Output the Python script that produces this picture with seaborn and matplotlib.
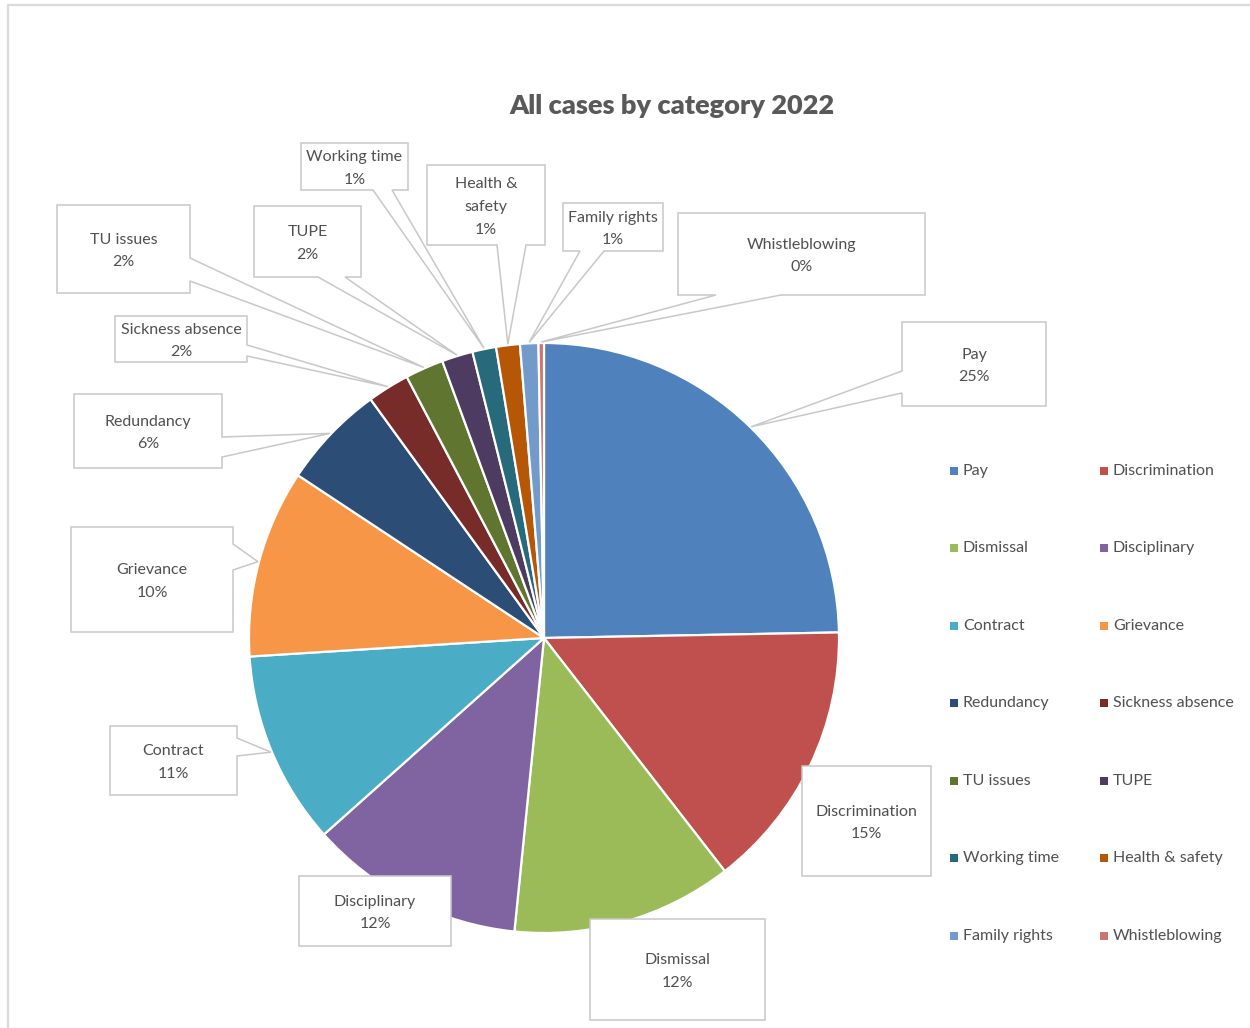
import matplotlib
matplotlib.use("Agg")
import matplotlib.pyplot as plt
from matplotlib.patches import Polygon
import numpy as np
import seaborn as sns

# ---- data -------------------------------------------------------------
categories = ["Pay", "Discrimination", "Dismissal", "Disciplinary", "Contract",
              "Grievance", "Redundancy", "Sickness absence", "TU issues", "TUPE",
              "Working time", "Health & safety", "Family rights", "Whistleblowing"]
shares = [24.7, 14.8, 12.1, 11.8, 10.6, 10.3, 5.7, 2.3, 2.1, 1.7, 1.3, 1.3, 1.0, 0.3]
colors = ["#4F81BD", "#C0504D", "#9BBB59", "#8064A2", "#4BACC6", "#F79646",
          "#2C4D75", "#772C2A", "#5F7530", "#4D3B62", "#276A7C", "#B65708",
          "#729ACA", "#CD7371"]
box_text = {"Health & safety": "Health &\nsafety"}

# ---- style ------------------------------------------------------------
sns.set_theme(style="white")
plt.rcParams["font.family"] = ["Lato", "DejaVu Sans"]
TXT = "#505050"
EDGE = "#C8C8C8"
FS = 11.5

W, H = 1250, 1028
fig = plt.figure(figsize=(W / 100, H / 100), dpi=100)
ax = fig.add_axes([0, 0, 1, 1])


def Y(y):
    """Convert a top-down pixel row into data y."""
    return H - y


palette = sns.color_palette(colors)
cx, cy, R = 544, 638, 295
wedges, _ = ax.pie(shares, colors=palette, startangle=90, counterclock=False,
                   center=(cx, Y(cy)), radius=R,
                   wedgeprops=dict(edgecolor="white", linewidth=1.6))

ax.set_xlim(0, W)
ax.set_ylim(0, H)
ax.set_aspect("equal")
ax.axis("off")

# chart frame (top and left edges)
ax.plot([8, W], [Y(5), Y(5)], color="#DADADA", lw=1.6, zorder=0)
ax.plot([8, 8], [Y(5), 0], color="#DADADA", lw=1.6, zorder=0)

ax.text(672, Y(106), "All cases by category 2022", ha="center", va="center",
        fontsize=19.5, fontweight="heavy", color="#595959")

total = sum(shares)

# callout boxes: (x0, y0, x1, y1), side of the pointer, pointer base positions
callouts = {
    "Pay": ((902, 322, 1046, 406), "left", (371, 393)),
    "Discrimination": ((802, 766, 931, 876), None, None),
    "Dismissal": ((590, 919, 765, 1020), None, None),
    "Disciplinary": ((299, 876, 451, 946), None, None),
    "Contract": ((110, 726, 237, 795), "right", (738, 756)),
    "Grievance": ((71, 527, 233, 632), "right", (544, 570)),
    "Redundancy": ((74, 394, 222, 468), "right", (437, 457)),
    "Sickness absence": ((115, 316, 247, 362), "right", (345, 356)),
    "TU issues": ((57, 205, 190, 293), "right", (258, 281)),
    "TUPE": ((254, 206, 361, 277), "bottom", (318, 345)),
    "Working time": ((301, 143, 408, 190), "bottom", (373, 392)),
    "Health & safety": ((427, 165, 545, 245), "bottom", (497, 526)),
    "Family rights": ((563, 203, 663, 251), "bottom", (580, 604)),
    "Whistleblowing": ((678, 213, 925, 295), "bottom", (716, 781)),
}

for name, w, val in zip(categories, wedges, shares):
    (x0, y0, x1, y1), side, base = callouts[name]
    mid = np.deg2rad((w.theta1 + w.theta2) / 2)
    apex = (cx + (R + 1) * np.cos(mid), Y(cy) + (R + 1) * np.sin(mid))
    TL, TR, BR, BL = (x0, Y(y0)), (x1, Y(y0)), (x1, Y(y1)), (x0, Y(y1))
    if side == "left":
        a, b = base
        pts = [TL, TR, BR, BL, (x0, Y(b)), apex, (x0, Y(a))]
    elif side == "right":
        a, b = base
        pts = [TL, TR, (x1, Y(a)), apex, (x1, Y(b)), BR, BL]
    elif side == "bottom":
        a, b = base
        pts = [TL, TR, BR, (b, Y(y1)), apex, (a, Y(y1)), BL]
    else:
        pts = [TL, TR, BR, BL]
    ax.add_patch(Polygon(pts, closed=True, facecolor="white", edgecolor=EDGE,
                         lw=1.1, zorder=5))
    pct = f"{round(val / total * 100)}%"
    label = box_text.get(name, name)
    ax.text((x0 + x1) / 2, Y((y0 + y1) / 2 + 2), f"{label}\n{pct}", ha="center",
            va="center", fontsize=FS, color=TXT, linespacing=1.78, zorder=6)

# legend, filled row by row in two columns
rows = [471, 548, 626, 703, 781, 858, 936]
col_x = [954, 1104]
for i, (name, c) in enumerate(zip(categories, palette)):
    r, k = divmod(i, 2)
    ax.scatter([col_x[k]], [Y(rows[r])], marker="s", s=26, color=c,
               linewidths=0, zorder=6)
    ax.text(col_x[k] + 9, Y(rows[r]), name, ha="left", va="center",
            fontsize=FS, color=TXT, zorder=6)

fig.savefig("out.png", dpi=100, facecolor="white")
